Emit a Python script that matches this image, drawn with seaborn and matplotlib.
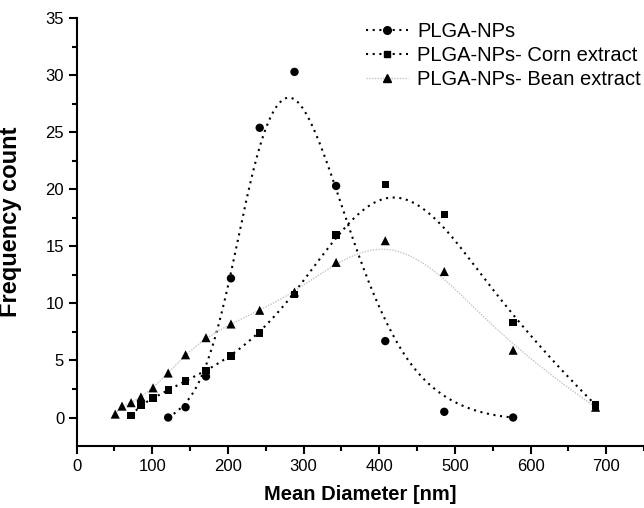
import numpy as np
import pandas as pd
import matplotlib
matplotlib.use("Agg")
import matplotlib.pyplot as plt
import seaborn as sns
from matplotlib.lines import Line2D

# --- data ---
x_plga = [121, 144, 171, 204, 242, 288, 343, 408, 486, 577]
y_plga = [0.0, 0.9, 3.6, 12.2, 25.4, 30.3, 20.3, 6.7, 0.5, 0.0]

x_corn = [72, 85, 101, 121, 144, 171, 204, 242, 288, 343, 408, 486, 577, 686]
y_corn = [0.2, 1.1, 1.7, 2.4, 3.2, 4.1, 5.4, 7.4, 10.8, 16.0, 20.4, 17.8, 8.3, 1.1]

x_bean = [51, 60, 72, 85, 101, 121, 144, 171, 204, 242, 288, 343, 408, 486, 577, 686]
y_bean = [0.3, 1.0, 1.3, 1.8, 2.6, 3.9, 5.5, 7.0, 8.2, 9.4, 11.0, 13.6, 15.5, 12.8, 5.9, 0.9]

labels = ["PLGA-NPs", "PLGA-NPs- Corn extract", "PLGA-NPs- Bean extract"]


def bspline(xs, ys, k=3, num=400):
    # clamped B-spline using the data points as control points (Origin style)
    P = np.column_stack([xs, ys]).astype(float)
    n = len(P)
    inner = np.linspace(0, 1, n - k + 1)
    t = np.concatenate([np.zeros(k), inner, np.ones(k)])
    u = np.linspace(0, 1, num)
    u[-1] = 1 - 1e-9

    def basis(i, p, uu):
        if p == 0:
            return np.where((t[i] <= uu) & (uu < t[i + 1]), 1.0, 0.0)
        a = 0.0
        if t[i + p] != t[i]:
            a = (uu - t[i]) / (t[i + p] - t[i]) * basis(i, p - 1, uu)
        b = 0.0
        if t[i + p + 1] != t[i + 1]:
            b = (t[i + p + 1] - uu) / (t[i + p + 1] - t[i + 1]) * basis(i + 1, p - 1, uu)
        return a + b

    N = np.array([basis(i, k, u) for i in range(n)])
    curve = N.T @ P
    return curve[:, 0], curve[:, 1]


sns.set_style("ticks")
plt.rcParams["font.family"] = ["Liberation Sans", "DejaVu Sans"]
plt.rcParams["text.color"] = "black"
plt.rcParams["axes.labelcolor"] = "black"
plt.rcParams["xtick.color"] = "black"
plt.rcParams["ytick.color"] = "black"

fig = plt.figure(figsize=(6.44, 5.08), dpi=100)
ax = fig.add_axes([0.119, 0.122, 0.881, 0.842])

series = [
    (x_plga, y_plga, "o", "black", (0, (1, 2.2)), 1.5, 5.5),
    (x_corn, y_corn, "s", "black", (0, (1, 2.2)), 1.5, 4.8),
    (x_bean, y_bean, "^", "#c4c4c4", (0, (1, 1)), 1.0, 6),
]

handles = []
for (xs, ys, mk, lc, ls, lw, ms), lab in zip(series, labels):
    cx, cy = bspline(xs, ys)
    curve = pd.DataFrame({"x": cx, "y": cy})
    sns.lineplot(data=curve, x="x", y="y", ax=ax, color=lc, linestyle=ls,
                 linewidth=lw, sort=False, estimator=None)
    pts = pd.DataFrame({"x": xs, "y": ys})
    sns.scatterplot(data=pts, x="x", y="y", ax=ax, marker=mk, color="black",
                    s=ms ** 2 * 1.2, edgecolor="none", zorder=3)
    handles.append(Line2D([], [], color=lc, linestyle=ls, linewidth=lw,
                          marker=mk, markersize=ms, markerfacecolor="black",
                          markeredgecolor="black"))

ax.set_xlim(0, 738)
ax.set_ylim(-2.5, 35)
ax.set_xticks(np.arange(0, 701, 100))
ax.set_xticks(np.arange(50, 751, 100), minor=True)
ax.set_yticks(np.arange(0, 36, 5))
ax.set_yticks(np.arange(2.5, 35, 5), minor=True)

sns.despine(ax=ax)
for s in ["left", "bottom"]:
    ax.spines[s].set_linewidth(1.5)
    ax.spines[s].set_color("black")
ax.tick_params(which="major", length=6, width=1.5, labelsize=12, pad=3)
ax.tick_params(which="minor", length=3.5, width=1.5)

ax.set_xlabel("Mean Diameter [nm]", fontsize=14.5, fontweight="bold", labelpad=8)
ax.set_ylabel("Frequency count", fontsize=17, fontweight="bold")
ax.yaxis.set_label_coords(-0.097, (508 - 222 - 62) / 428)

leg = fig.legend(handles, labels, loc="upper left",
                 bbox_to_anchor=(366 / 644, 1 - 22 / 508), frameon=False,
                 fontsize=14.5, handlelength=2.1, handletextpad=0.45,
                 labelspacing=0.25, borderaxespad=0, borderpad=0)

fig.savefig("out.png", dpi=100)
